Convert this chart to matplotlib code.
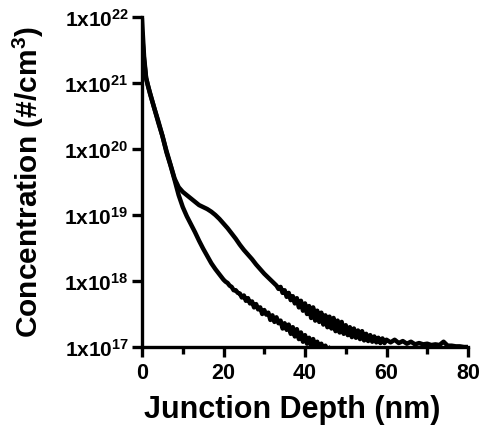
import numpy as np
import matplotlib
matplotlib.use("Agg")
import matplotlib.pyplot as plt
from matplotlib.ticker import FixedLocator, MultipleLocator

plt.rcParams['font.family'] = ['Liberation Sans', 'DejaVu Sans']
plt.rcParams['font.weight'] = 'bold'
plt.rcParams['mathtext.fontset'] = 'custom'
plt.rcParams['mathtext.rm'] = 'Liberation Sans:bold'
plt.rcParams['mathtext.bf'] = 'Liberation Sans:bold'
plt.rcParams['mathtext.default'] = 'rm'

# depth (nm) and log10 concentration (#/cm3)
depth_a = [0, 0.5, 1, 1.5] + list(range(2, 20)) + list(np.arange(20, 46.01, 0.5))
logc_a = [21.95, 21.4, 21.08, 20.95, 20.84, 20.62, 20.4, 20.2, 19.95, 19.75, 19.53, 19.3,
          19.12, 18.98, 18.86, 18.74, 18.61, 18.49, 18.38, 18.27, 18.18, 18.1,
          18.02, 17.99, 17.97, 17.93, 17.91, 17.86, 17.86, 17.82, 17.81, 17.75,
          17.78, 17.70, 17.74, 17.66, 17.69, 17.60, 17.65, 17.57, 17.60, 17.50,
          17.56, 17.49, 17.52, 17.41, 17.48, 17.38, 17.45, 17.36, 17.40, 17.28,
          17.36, 17.26, 17.34, 17.20, 17.30, 17.16, 17.27, 17.12, 17.22, 17.08,
          17.18, 17.05, 17.14, 17.02, 17.12, 16.98, 17.08, 16.97, 17.05, 16.96,
          17.02, 16.95, 16.98]

depth_b = ([0, 0.5, 1, 1.5] + list(range(2, 33)) + list(np.arange(33, 60.01, 0.5))
           + list(range(61, 81)))
logc_b = [21.75, 21.35, 21.07, 20.95, 20.83, 20.62, 20.42, 20.2, 19.97, 19.76, 19.55, 19.42,
          19.35, 19.3, 19.25, 19.2, 19.15, 19.12, 19.09, 19.05, 19.0, 18.94, 18.87,
          18.8, 18.72, 18.64, 18.55, 18.47, 18.4, 18.33, 18.25, 18.18, 18.11, 18.05,
          17.99,
          17.93, 17.88, 17.91, 17.82, 17.86, 17.76, 17.82, 17.71, 17.77, 17.66,
          17.74, 17.60, 17.70, 17.55, 17.66, 17.50, 17.62, 17.44, 17.60, 17.40,
          17.55, 17.38, 17.52, 17.34, 17.48, 17.30, 17.46, 17.28, 17.44, 17.24,
          17.40, 17.22, 17.38, 17.20, 17.33, 17.18, 17.30, 17.15, 17.28, 17.14,
          17.25, 17.12, 17.24, 17.10, 17.20, 17.09, 17.18, 17.08, 17.16, 17.07,
          17.14, 17.06, 17.13, 17.06, 17.11,
          17.07, 17.11, 17.06, 17.09, 17.05, 17.08, 17.04, 17.06, 17.04, 17.05,
          17.03, 17.04, 17.03, 17.08, 17.02, 17.02, 17.01, 17.01, 17.0, 17.0]

yticks = [1e17, 1e18, 1e19, 1e20, 1e21, 1e22]
ytick_labels = [r'1x10$^{17}$', r'1x10$^{18}$', r'1x10$^{19}$',
                r'1x10$^{20}$', r'1x10$^{21}$', r'1x10$^{22}$']

fig = plt.figure(figsize=(4.87, 4.27), dpi=100)
ax = fig.add_axes([0.2916, 0.185, 0.6694, 0.773])

ax.plot(depth_a, 10 ** np.array(logc_a), color='black', lw=3.2)
ax.plot(depth_b, 10 ** np.array(logc_b), color='black', lw=3.2)

ax.set_yscale('log')
ax.set_xlim(0, 80)
ax.set_ylim(1e17, 1e22)
ax.yaxis.set_major_locator(FixedLocator(yticks))
ax.set_yticklabels(ytick_labels)
ax.yaxis.set_minor_locator(FixedLocator([]))
ax.xaxis.set_major_locator(MultipleLocator(20))
ax.xaxis.set_minor_locator(MultipleLocator(10))

for s in ['top', 'right']:
    ax.spines[s].set_visible(False)
for s in ['left', 'bottom']:
    ax.spines[s].set_linewidth(2.4)

ax.tick_params(axis='both', which='major', direction='out', length=7.5, width=2.4)
ax.tick_params(axis='x', which='minor', direction='out', length=5, width=2.4)
ax.tick_params(axis='x', labelsize=15.5, pad=3)
ax.tick_params(axis='y', labelsize=15, pad=2)

fig.text(292 / 487, 1 - 410 / 427, 'Junction Depth (nm)', fontsize=22,
         fontweight='bold', ha='center', va='center')
fig.text(28 / 487, 1 - 182 / 427, 'Concentration (#/cm$^{3}$)', fontsize=21.5,
         fontweight='bold', ha='center', va='center', rotation=90)

fig.savefig('out.png', dpi=100)
